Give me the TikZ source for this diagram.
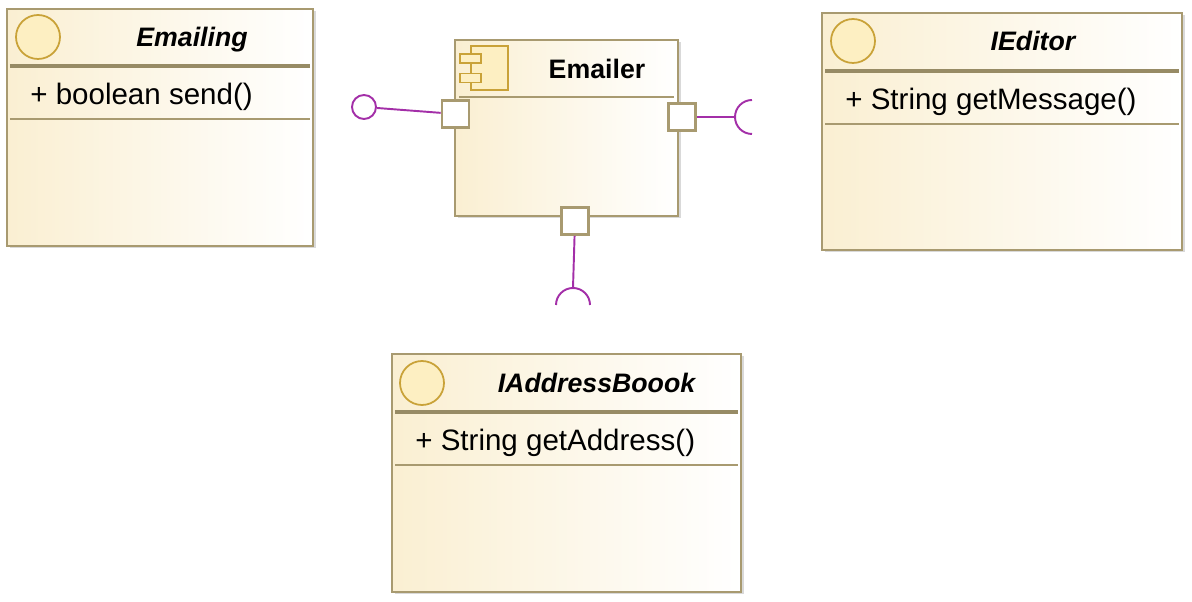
\documentclass[tikz,border=0pt]{standalone}
\usepackage{fontspec}
\setmainfont{Liberation Sans}
\usetikzlibrary{shadows}
\definecolor{boxline}{HTML}{A89A70}
\definecolor{boxfill}{HTML}{FAEFD2}
\definecolor{iconfill}{HTML}{FDEFC2}
\definecolor{iconline}{HTML}{C9A238}
\definecolor{wirecol}{HTML}{A32FA8}
\begin{document}
\begin{tikzpicture}[
  classbox/.style={rectangle,draw=boxline,line width=1.1pt,left color=boxfill,right color=white,
    drop shadow={shadow xshift=.05cm,shadow yshift=-.05cm,fill=black,opacity=.15}},
  icon/.style={circle,draw=iconline,line width=1pt,fill=iconfill,minimum size=8.8mm,inner sep=0pt},
  iconbar/.style={rectangle,draw=iconline,line width=1pt,fill=iconfill,inner sep=0pt},
  title/.style={inner sep=0pt,font=\fontsize{15.2}{18}\selectfont\bfseries\itshape},
  member/.style={anchor=west,inner sep=0pt,font=\fontsize{16.8}{19}\selectfont},
  headline/.style={draw=boxline!90!black,line width=1.9pt},
  rowline/.style={draw=boxline,line width=.8pt},
  portbox/.style={rectangle,draw=boxline,line width=1.5pt,fill=white,minimum size=5.4mm,inner sep=0pt},
  lollipop/.style={circle,draw=wirecol,line width=1.1pt,fill=white,minimum size=4.8mm,inner sep=0pt},
  wire/.style={draw=wirecol,line width=1.1pt}]
\useasboundingbox (0,0) rectangle (23.84,12.04);
\node[classbox,minimum width=61.2mm,minimum height=47.4mm] (Emailing) at (3.2,9.49) {};
\node[icon] (EmailingIcon) at (.76,11.3) {};
\node[title] (EmailingTitle) at (3.84,11.24) {Emailing};
\draw[headline] (.2,10.72) -- (6.2,10.72);
\node[member] (EmailingSend) at (.6,10.1) {+ boolean send()};
\draw[rowline] (.2,9.66) -- (6.2,9.66);
\node[classbox,minimum width=72mm,minimum height=47.4mm] (IEditor) at (20.04,9.41) {};
\node[icon] (IEditorIcon) at (17.06,11.22) {};
\node[title] (IEditorTitle) at (20.66,11.22) {IEditor};
\draw[headline] (16.5,10.62) -- (23.58,10.62);
\node[member] (IEditorMsg) at (16.9,10) {+ String getMessage()};
\draw[rowline] (16.5,9.56) -- (23.58,9.56);
\node[classbox,minimum width=69.8mm,minimum height=47.6mm] (IAddress) at (11.33,2.58) {};
\node[icon] (IAddressIcon) at (8.44,4.38) {};
\node[title] (IAddressTitle) at (11.93,4.38) {IAddressBoook};
\draw[headline] (7.9,3.8) -- (14.76,3.8);
\node[member] (IAddressGet) at (8.3,3.18) {+ String getAddress()};
\draw[rowline] (7.9,2.74) -- (14.76,2.74);
\node[classbox,minimum width=44.6mm,minimum height=35.2mm] (Emailer) at (11.33,9.48) {};
\node[iconbar,minimum width=7.4mm,minimum height=8.8mm] (CompBody) at (9.79,10.68) {};
\node[iconbar,minimum width=4.2mm,minimum height=1.8mm] (CompPinA) at (9.41,10.87) {};
\node[iconbar,minimum width=4.2mm,minimum height=1.8mm] (CompPinB) at (9.41,10.48) {};
\node[title,font=\fontsize{15.2}{18}\selectfont\bfseries] (EmailerTitle) at (11.94,10.66) {Emailer};
\draw[rowline] (9.18,10.1) -- (13.48,10.1);
\node[portbox] (PortL) at (9.11,9.76) {};
\node[portbox] (PortR) at (13.64,9.7) {};
\node[portbox] (PortB) at (11.5,7.62) {};
\node[lollipop] (Provided) at (7.28,9.9) {};
\coordinate (SocketR) at (14.7,9.7);
\coordinate (SocketB) at (11.46,6.28);
\draw[wire] (Provided) -- (PortL);
\draw[wire] (PortR) -- (SocketR);
\draw[wire] (PortB) -- (SocketB);
\draw[wire] (SocketR) arc[start angle=180,end angle=90,radius=.34];
\draw[wire] (SocketR) arc[start angle=180,end angle=270,radius=.34];
\draw[wire] (SocketB) arc[start angle=90,end angle=180,radius=.34];
\draw[wire] (SocketB) arc[start angle=90,end angle=0,radius=.34];
\end{tikzpicture}
\end{document}
